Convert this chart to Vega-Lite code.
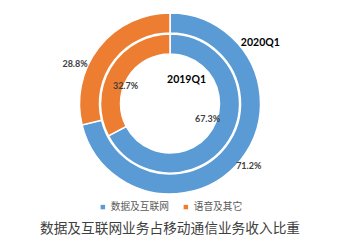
{
  "$schema": "https://vega.github.io/schema/vega-lite/v6.json",
  "width": 342,
  "height": 244,
  "autosize": {"type": "fit", "contains": "padding"},
  "padding": {"top": 0, "left": 0, "right": 2, "bottom": 8},
  "background": "white",
  "datasets": {
    "shares": [
      {"ring": "2020Q1", "category": "数据及互联网", "share": 71.2, "label": "71.2%"},
      {"ring": "2020Q1", "category": "语音及其它", "share": 28.8, "label": "28.8%"},
      {"ring": "2019Q1", "category": "数据及互联网", "share": 67.3, "label": "67.3%"},
      {"ring": "2019Q1", "category": "语音及其它", "share": 32.7, "label": "32.7%"}
    ]
  },
  "title": {
    "text": "数据及互联网业务占移动通信业务收入比重",
    "orient": "bottom",
    "fontSize": 13.7,
    "font": "Noto Sans CJK SC",
    "fontWeight": "normal",
    "color": "#404040",
    "offset": 10
  },
  "config": {
    "view": {"stroke": null},
    "legend": {"layout": {"bottom": {"anchor": "middle"}}}
  },
  "layer": [
    {
      "data": {"name": "shares"},
      "transform": [{"filter": "datum.ring === '2020Q1'"}],
      "mark": {"type": "arc", "radius": 90.5, "radius2": 70.5, "stroke": "white", "strokeWidth": 1.5},
      "encoding": {
        "theta": {"field": "share", "type": "quantitative", "stack": true},
        "color": {
          "field": "category",
          "type": "nominal",
          "scale": {"domain": ["数据及互联网", "语音及其它"], "range": ["#5B9BD5", "#ED7D31"]},
          "legend": {
            "orient": "bottom",
            "direction": "horizontal",
            "title": null,
            "symbolType": "square",
            "symbolSize": 20,
            "symbolStrokeWidth": 0,
            "labelFont": "Noto Sans CJK SC",
            "labelFontSize": 9.7,
            "labelColor": "#595959",
            "columnPadding": 12,
            "labelOffset": 3,
            "offset": -5
          }
        }
      }
    },
    {
      "data": {"name": "shares"},
      "transform": [{"filter": "datum.ring === '2019Q1'"}],
      "mark": {"type": "arc", "radius": 69.5, "radius2": 49.5, "stroke": "white", "strokeWidth": 1.5},
      "encoding": {
        "theta": {"field": "share", "type": "quantitative", "stack": true},
        "color": {"field": "category", "type": "nominal"}
      }
    },
    {
      "data": {"name": "shares"},
      "transform": [{"filter": "datum.ring === '2020Q1'"}],
      "mark": {"type": "text", "radius": 102.7, "thetaOffset": -0.276, "font": "Lato", "fontWeight": "bold", "fontSize": 9, "color": "#404040"},
      "encoding": {
        "theta": {"field": "share", "type": "quantitative", "stack": true},
        "text": {"condition": {"test": "datum.category === '语音及其它'", "field": "label"}, "value": ""},
        "order": {"field": "category"}
      }
    },
    {
      "data": {"name": "shares"},
      "transform": [{"filter": "datum.ring === '2020Q1'"}],
      "mark": {"type": "text", "radius": 100.7, "thetaOffset": 0.007, "font": "Lato", "fontWeight": "bold", "fontSize": 9, "color": "#404040"},
      "encoding": {
        "theta": {"field": "share", "type": "quantitative", "stack": true},
        "text": {"condition": {"test": "datum.category === '数据及互联网'", "field": "label"}, "value": ""},
        "order": {"field": "category"}
      }
    },
    {
      "data": {"name": "shares"},
      "transform": [{"filter": "datum.ring === '2019Q1'"}],
      "mark": {"type": "text", "radius": 47.7, "thetaOffset": -0.175, "font": "Lato", "fontWeight": "bold", "fontSize": 9, "color": "#404040"},
      "encoding": {
        "theta": {"field": "share", "type": "quantitative", "stack": true},
        "text": {"condition": {"test": "datum.category === '语音及其它'", "field": "label"}, "value": ""},
        "order": {"field": "category"}
      }
    },
    {
      "data": {"name": "shares"},
      "transform": [{"filter": "datum.ring === '2019Q1'"}],
      "mark": {"type": "text", "radius": 40.5, "thetaOffset": -0.157, "font": "Lato", "fontWeight": "bold", "fontSize": 9, "color": "#404040"},
      "encoding": {
        "theta": {"field": "share", "type": "quantitative", "stack": true},
        "text": {"condition": {"test": "datum.category === '数据及互联网'", "field": "label"}, "value": ""},
        "order": {"field": "category"}
      }
    },
    {
      "data": {"values": [{"name": "2020Q1"}]},
      "mark": {"type": "text", "font": "Lato", "fontWeight": "bold", "fontSize": 10.5, "color": "#000000"},
      "encoding": {
        "theta": {"value": 0.981},
        "radius": {"value": 108.7},
        "text": {"field": "name"}
      }
    },
    {
      "data": {"values": [{"name": "2019Q1"}]},
      "mark": {"type": "text", "font": "Lato", "fontWeight": "bold", "fontSize": 10.5, "color": "#000000"},
      "encoding": {
        "theta": {"value": 0.606},
        "radius": {"value": 29},
        "text": {"field": "name"}
      }
    }
  ]
}
